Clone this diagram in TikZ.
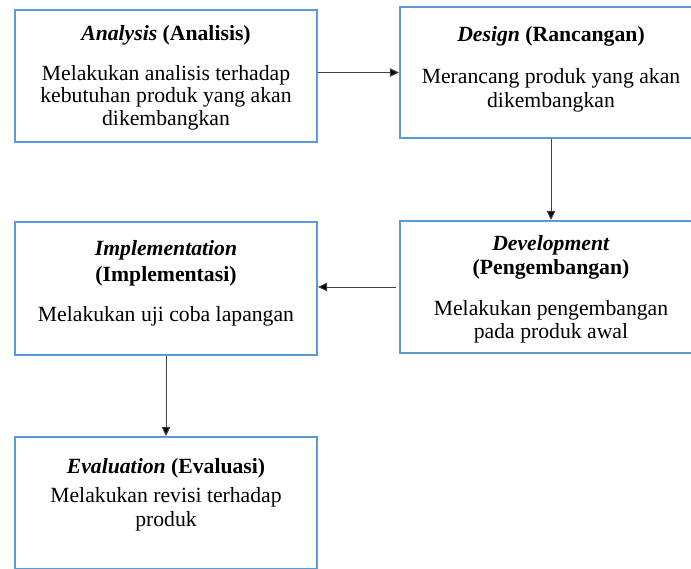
\documentclass[tikz,border=0pt]{standalone}
\usepackage{fontspec}
\setmainfont{Liberation Serif}
\usetikzlibrary{arrows.meta}
\definecolor{boxblue}{HTML}{5B9BD5}
\definecolor{linegray}{HTML}{404040}
\begin{document}
\begin{tikzpicture}[x=1pt,y=1pt,
  stagebox/.style={draw=boxblue, line width=2.2pt, minimum width=302pt, minimum height=132pt, inner sep=0pt},
  txt/.style={font=\fontsize{21.7}{24}\selectfont, anchor=base, inner sep=0pt},
  conn/.style={draw=linegray, line width=1pt, -{Triangle[length=9pt,width=8.5pt,fill=black]}}]
\useasboundingbox (0,0) rectangle (691,-568);
\clip (0,0) rectangle (691,-568);
% boxes
\node[stagebox] (ana) at (166,-76) {};
\node[stagebox, minimum height=131pt] (des) at (551,-72.5) {};
\node[stagebox] (dev) at (551,-287) {};
\node[stagebox, minimum height=133pt] (imp) at (166,-288.5) {};
\node[stagebox] (eva) at (166,-503) {};
% texts: Analysis
\node[txt] (anaT) at (166,-40) {\textbf{\textit{Analysis}} \textbf{(Analisis)}};
\node[txt] (anaB1) at (166,-80) {Melakukan analisis terhadap};
\node[txt] (anaB2) at (166,-102.5) {kebutuhan produk yang akan};
\node[txt] (anaB3) at (166,-125) {dikembangkan};
% Design
\node[txt] (desT) at (551,-41) {\textbf{\textit{Design}} \textbf{(Rancangan)}};
\node[txt] (desB1) at (551,-83) {Merancang produk yang akan};
\node[txt] (desB2) at (551,-107) {dikembangkan};
% Development
\node[txt] (devT1) at (551,-250) {\textbf{\textit{Development}}};
\node[txt] (devT2) at (551,-274) {\textbf{(Pengembangan)}};
\node[txt] (devB1) at (551,-315) {Melakukan pengembangan};
\node[txt] (devB2) at (551,-338.5) {pada produk awal};
% Implementation
\node[txt] (impT1) at (166,-255) {\textbf{\textit{Implementation}}};
\node[txt] (impT2) at (166,-281) {\textbf{(Implementasi)}};
\node[txt] (impB1) at (166,-321) {Melakukan uji coba lapangan};
% Evaluation
\node[txt] (evaT) at (166,-473) {\textbf{\textit{Evaluation}} \textbf{(Evaluasi)}};
\node[txt] (evaB1) at (166,-502) {Melakukan revisi terhadap};
\node[txt] (evaB2) at (166,-526) {produk};
% connectors
\draw[conn] (ana.east|-des.west) -- (des.west);
\draw[conn] (des.south) -- (dev.north);
\draw[conn, shorten <=3pt] (dev.west) -- (imp.east|-dev.west);
\draw[conn] (imp.south) -- (eva.north);
\end{tikzpicture}
\end{document}
